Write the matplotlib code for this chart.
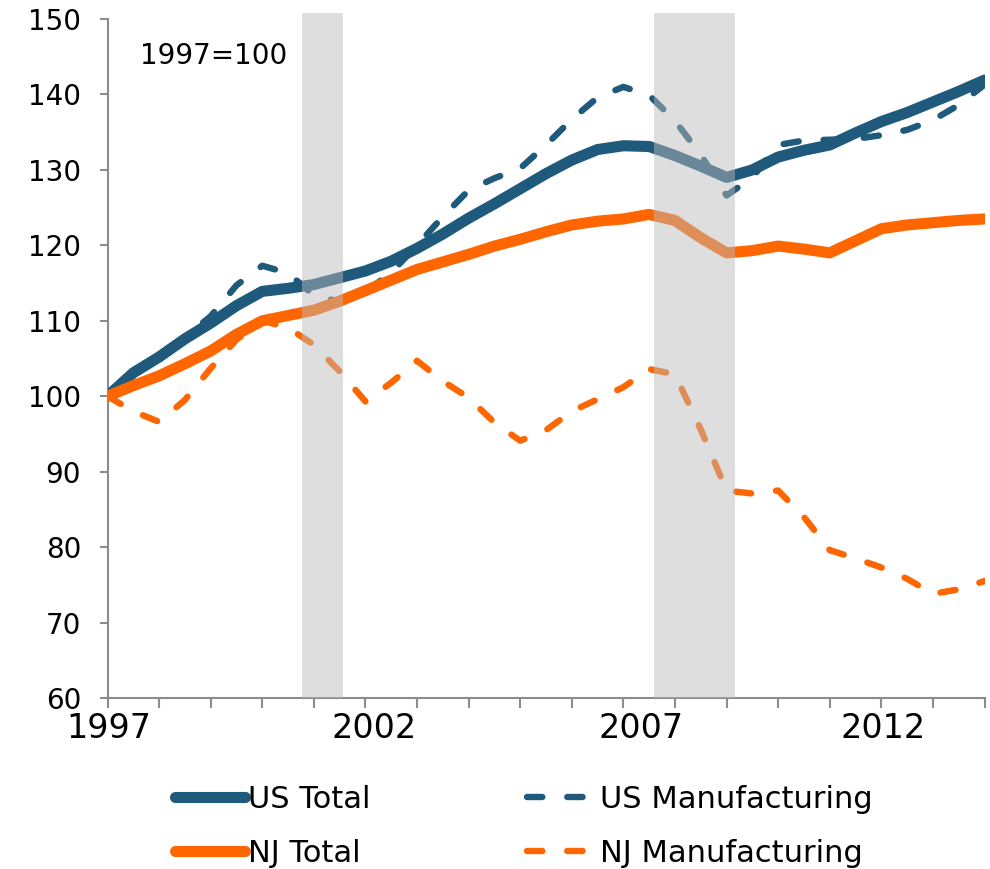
import matplotlib
matplotlib.use("Agg")
import matplotlib.pyplot as plt
from matplotlib.patches import Rectangle

# ---- data (x in years since 1997) ----
x = [0.0, 0.5, 1.0, 1.5, 2.0, 2.5, 3.0, 3.5, 4.0, 4.5, 5.0, 5.5, 6.0, 6.5,
     7.0, 7.5, 8.0, 8.5, 9.0, 9.5, 10.0, 10.5, 11.0, 11.5, 12.0, 12.5, 13.0,
     13.5, 14.0, 14.5, 15.0, 15.5, 16.0, 16.5, 17.0]

us_total = [100.0, 103.1, 105.2, 107.6, 109.7, 112.0, 113.9, 114.3, 114.8, 115.7,
            116.6, 117.9, 119.6, 121.5, 123.6, 125.5, 127.5, 129.5, 131.3, 132.7,
            133.2, 133.1, 131.9, 130.5, 129.0, 130.0, 131.7, 132.6, 133.3, 134.9,
            136.4, 137.6, 139.0, 140.4, 141.9]

us_mfg = [100.0, 103.0, 105.3, 107.8, 110.6, 114.7, 117.3, 116.3, 113.4, 112.5,
          113.8, 116.4, 120.0, 123.8, 127.3, 128.9, 130.2, 133.3, 136.7, 139.6,
          141.0, 139.9, 136.5, 132.0, 126.6, 129.0, 133.3, 133.9, 134.0, 134.1,
          134.6, 135.3, 136.6, 138.6, 141.3]

nj_total = [100.0, 101.4, 102.7, 104.3, 106.0, 108.2, 110.0, 110.7, 111.4, 112.6,
            114.0, 115.4, 116.8, 117.8, 118.8, 119.9, 120.8, 121.8, 122.7, 123.2,
            123.5, 124.1, 123.3, 121.0, 119.0, 119.3, 119.9, 119.5, 119.0, 120.6,
            122.2, 122.7, 123.0, 123.3, 123.5]

nj_mfg = [100.0, 98.0, 96.6, 99.5, 103.7, 107.5, 110.0, 109.1, 106.8, 103.3,
          99.3, 101.8, 104.7, 102.0, 99.8, 96.5, 94.1, 95.5, 98.0, 99.6,
          101.2, 103.6, 102.9, 95.6, 87.5, 87.1, 87.5, 84.0, 79.6, 78.5,
          77.3, 75.8, 73.8, 74.4, 75.5]

recessions = [(3.77, 4.56), (10.59, 12.16)]

tick_labels = ["1997", "2002", "2007", "2012"]
tick_label_pos = [0.03, 5.17, 10.34, 15.03]
minor_ticks = list(range(0, 18))
y_ticks = [60, 70, 80, 90, 100, 110, 120, 130, 140, 150]

# ---- styling ----
BLUE = "#1f5a7c"
ORANGE = "#ff6600"
AXIS = "#8c8c8c"
plt.rcParams["font.family"] = ["DejaVu Sans"]

fig = plt.figure(figsize=(9.9, 8.69), dpi=100)
ax = fig.add_axes([107.5 / 990, 1 - 698 / 869, (984.5 - 107.5) / 990, (698 - 19) / 869])

dash = (0, (2.4, 3.9))
l_usm, = ax.plot(x, us_mfg, color=BLUE, lw=4.6, linestyle=dash,
                 dash_capstyle="round", dash_joinstyle="round", zorder=2,
                 label="US Manufacturing")
l_njm, = ax.plot(x, nj_mfg, color=ORANGE, lw=4.6, linestyle=dash,
                 dash_capstyle="round", dash_joinstyle="round", zorder=2.1,
                 label="NJ Manufacturing")
l_ust, = ax.plot(x, us_total, color=BLUE, lw=8, solid_capstyle="round",
                 solid_joinstyle="round", zorder=3, label="US Total")
l_njt, = ax.plot(x, nj_total, color=ORANGE, lw=8, solid_capstyle="round",
                 solid_joinstyle="round", zorder=3.1, label="NJ Total")

for a, b in recessions:
    ax.add_patch(Rectangle((a, 60), b - a, 90.8, facecolor=(186 / 255,) * 3,
                           alpha=0.48, lw=0, zorder=5, clip_on=False))

ax.set_xlim(0, 17)
ax.set_ylim(60, 150)

for s in ["top", "right"]:
    ax.spines[s].set_visible(False)
for s in ["left", "bottom"]:
    ax.spines[s].set_color(AXIS)
    ax.spines[s].set_linewidth(1.5)

ax.set_yticks(y_ticks)
ax.tick_params(axis="y", length=6, width=1.5, color=AXIS, labelsize=20, pad=13)
ax.set_xticks(tick_label_pos)
ax.set_xticklabels(tick_labels)
ax.set_xticks(minor_ticks, minor=True)
ax.tick_params(axis="x", which="major", length=0, labelsize=24, pad=10)
ax.tick_params(axis="x", which="minor", length=7.5, width=1.5, color=AXIS)

ax.text(0.63, 145.1, "1997=100", ha="left", va="center", fontsize=20)

fig.legend(handles=[l_ust, l_njt, l_usm, l_njm], ncol=2, loc="upper left",
           bbox_to_anchor=(175 / 990, 1 - 785 / 869), frameon=False, fontsize=22,
           handlelength=2.3, handletextpad=0.1, columnspacing=5.1,
           labelspacing=0.82, borderpad=0, borderaxespad=0)

fig.savefig("out.png", dpi=100)
